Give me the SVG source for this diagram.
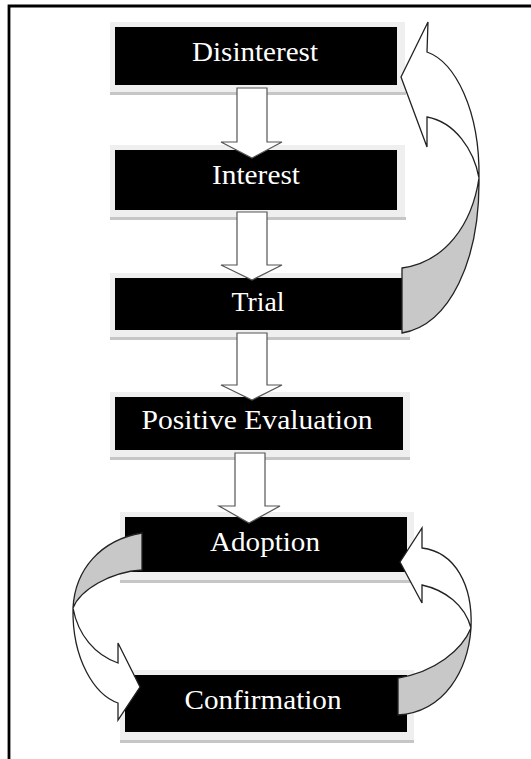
<svg xmlns="http://www.w3.org/2000/svg" width="531" height="759" viewBox="0 0 531 759">
  <style>
    .frame { fill: none; stroke: #000; stroke-width: 2.8; }
    .halo { fill: #efefef; }
    .ledge { fill: #c6c6c6; }
    .box { fill: #000; }
    .label { fill: #fff; font-family: "Liberation Serif", "Times New Roman", serif; font-size: 27px; text-anchor: middle; }
    .flow { fill: #fff; stroke: #555; stroke-width: 1.2; stroke-linejoin: miter; }
    .loop { fill: #fff; stroke: #222; stroke-width: 1.3; stroke-linejoin: miter; }
    .under { fill: #c8c8c8; stroke: #222; stroke-width: 1.3; stroke-linejoin: miter; }
  </style>

  <rect width="531" height="759" fill="#fff"/>
  <!-- page frame: top and left rules -->
  <path class="frame" d="M9,759 V6 H531"/>

  <g id="node-disinterest">
    <rect class="halo" x="110" y="22" width="295" height="71"/>
    <rect class="ledge" x="110" y="92" width="296" height="3"/>
    <rect class="box" x="115" y="27" width="282" height="58"/>
    <text class="label" x="255" y="61" textLength="126" lengthAdjust="spacingAndGlyphs">Disinterest</text>
  </g>

  <g id="node-interest">
    <rect class="halo" x="110" y="145" width="295" height="73"/>
    <rect class="ledge" x="110" y="217" width="296" height="3"/>
    <rect class="box" x="115" y="150" width="282" height="60"/>
    <text class="label" x="256" y="184" textLength="88" lengthAdjust="spacingAndGlyphs">Interest</text>
  </g>

  <g id="node-trial">
    <rect class="halo" x="110" y="273" width="300" height="65"/>
    <rect class="ledge" x="110" y="337" width="300" height="3"/>
    <rect class="box" x="115" y="278" width="288" height="52"/>
    <text class="label" x="258" y="311" textLength="53" lengthAdjust="spacingAndGlyphs">Trial</text>
  </g>

  <g id="node-positive-evaluation">
    <rect class="halo" x="110" y="392" width="300" height="66"/>
    <rect class="ledge" x="110" y="457" width="300" height="3"/>
    <rect class="box" x="115" y="397" width="288" height="53"/>
    <text class="label" x="257" y="429" textLength="231" lengthAdjust="spacingAndGlyphs">Positive Evaluation</text>
  </g>

  <g id="node-adoption">
    <rect class="halo" x="120" y="512" width="294" height="69"/>
    <rect class="ledge" x="120" y="580" width="294" height="3"/>
    <rect class="box" x="125" y="517" width="282" height="55"/>
    <text class="label" x="265" y="551" textLength="110" lengthAdjust="spacingAndGlyphs">Adoption</text>
  </g>

  <g id="node-confirmation">
    <rect class="halo" x="120" y="670" width="294" height="71"/>
    <rect class="ledge" x="120" y="740" width="294" height="3"/>
    <rect class="box" x="125" y="675" width="282" height="57"/>
    <text class="label" x="263" y="709" textLength="157" lengthAdjust="spacingAndGlyphs">Confirmation</text>
  </g>

  <g id="connectors">
    <!-- straight block arrows down the main sequence -->
    <path class="flow" d="M237,88 H267 V142 H282 L252,158 L221,142 H237 Z"/>
    <path class="flow" d="M237,212 H267 V265 H282 L252,280 L221,265 H237 Z"/>
    <path class="flow" d="M237,333 H267 V385 H282 L252,400 L221,385 H237 Z"/>
    <path class="flow" d="M235,453 H265 V506 H280 L249,523 L219,506 H235 Z"/>

    <!-- Trial back to Disinterest: twisted curved arrow on the right -->
    <path class="under" d="M479,178 C480,260 450,325 402,333 L402,268 C445,262 472,225 479,178 Z"/>
    <path class="loop" d="M427,52 C455,62 480,110 479,178 C474,150 455,122 427,117 L427,147 L401,77 L428,22 Z"/>

    <!-- Adoption down to Confirmation: left loop -->
    <path class="under" d="M142,533 C100,540 75,570 73,608 C80,590 110,572 142,570 Z"/>
    <path class="loop" d="M73,608 C72,660 95,695 118,703 L118,720 L140,687 L118,643 L118,663 C95,655 78,635 73,608 Z"/>

    <!-- Confirmation back up to Adoption: right loop -->
    <path class="under" d="M398,678 L398,715 C445,712 468,670 471,628 C462,650 435,672 398,678 Z"/>
    <path class="loop" d="M471,628 C473,585 455,552 422,548 L422,528 L400,562 L422,603 L422,585 C445,590 465,605 471,628 Z"/>
  </g>
</svg>
